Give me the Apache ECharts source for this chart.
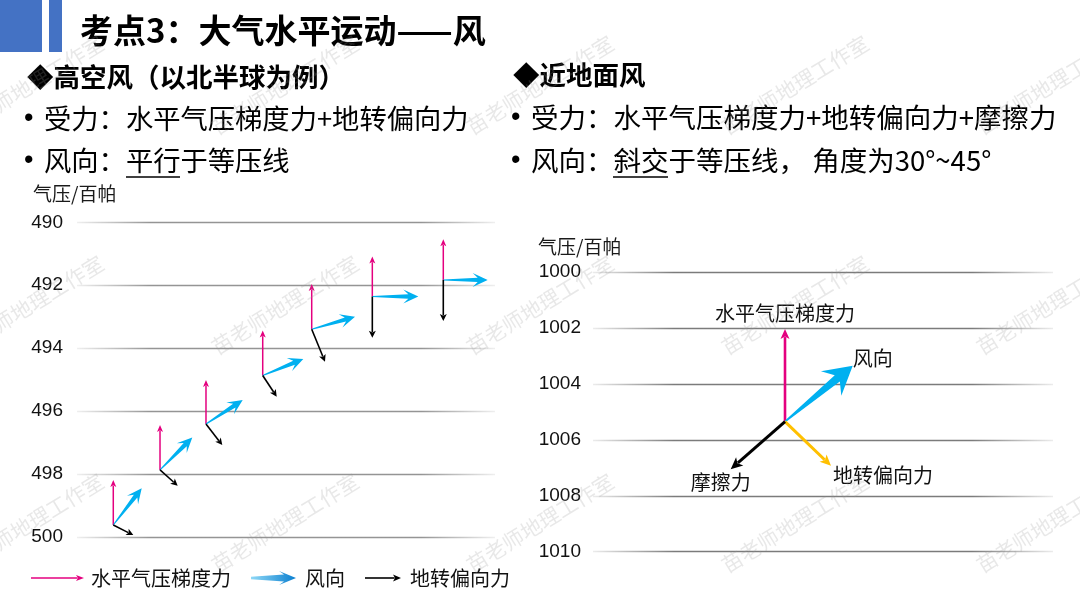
<!DOCTYPE html>
<html lang="zh">
<head>
    <meta charset="UTF-8">
    <title>考点3：大气水平运动——风</title>
    <style>
        html, body {
            margin: 0;
            padding: 0;
            background: #fff;
        }

        #main {
            width: 1080px;
            height: 608px;
        }
    </style>
    <script src="https://cdn.jsdelivr.net/npm/echarts@6/dist/echarts.min.js"></script>
</head>
<body>
<div id="main"></div>
<script>
    // 等压线（百帕）
    var upperIsobars = [490, 492, 494, 496, 498, 500];
    var surfaceIsobars = [1000, 1002, 1004, 1006, 1008, 1010];

    // 高空风：7个受力点，x为示意横坐标(0-100)，y为气压
    var upperOrigins = [[8.68, 499.62], [19.86, 497.87], [30.86, 496.41], [44.43, 494.87], [56.15, 493.40], [70.65, 492.36], [87.63, 491.83]];
    var upperPgfTips = [[8.68, 498.19], [19.86, 496.44], [30.86, 495.01], [44.43, 493.44], [56.15, 491.96], [70.65, 491.09], [87.63, 490.54]];
    var upperWindTips = [[15.48, 498.45], [27.58, 496.84], [39.64, 495.65], [54.14, 494.34], [66.51, 493.00], [81.65, 492.36], [98.25, 491.83]];
    var upperCoriolisTips = [[13.47, 499.94], [24.09, 498.37], [34.76, 497.08], [47.78, 495.54], [59.33, 494.43], [70.65, 493.67], [87.63, 493.14]];
    var upperNames = ['水平气压梯度力', '风向', '地转偏向力'];

    // 近地面风：一个受力点，四个矢量
    var surfaceOrigin = [41.74, 1005.35];
    var surfaceNames = ['水平气压梯度力', '风向', '地转偏向力', '摩擦力'];
    var surfaceTips = [[41.74, 1002.04], [56.46, 1003.35], [51.74, 1006.93], [29.93, 1007.05]];

    var CJK = '"Noto Sans CJK SC", "Noto Sans", sans-serif';
    var PINK = '#E4007F';
    var BLUE = '#00B0F0';
    var GOLD = '#FFC000';
    var BLACK = '#000000';

    // 箭头形状（像素坐标），s为样式
    function arrowParts(p0, p1, s) {
        var dx = p1[0] - p0[0], dy = p1[1] - p0[1];
        var len = Math.sqrt(dx * dx + dy * dy) || 1;
        var ux = dx / len, uy = dy / len;
        var nx = -uy, ny = ux;
        function at(a, b) {
            return [p1[0] - ux * a + nx * b, p1[1] - uy * a + ny * b];
        }
        if (s.taper) {
            return [{
                type: 'polygon',
                shape: {
                    points: [at(len, s.tail), at(s.notch, s.body), at(s.head, s.wing), p1,
                        at(s.head, -s.wing), at(s.notch, -s.body), at(len, -s.tail)]
                },
                style: {fill: s.color}
            }];
        }
        var b = at(s.head * 0.8, 0);
        return [
            {
                type: 'line',
                shape: {x1: p0[0], y1: p0[1], x2: b[0], y2: b[1]},
                style: {stroke: s.color, lineWidth: s.width}
            },
            {
                type: 'polygon',
                shape: {points: [p1, at(s.head, s.wing), at(s.head * 0.75, 0), at(s.head, -s.wing)]},
                style: {fill: s.color}
            }
        ];
    }

    var upperStyles = [
        {color: PINK, width: 1.5, head: 7, wing: 3},
        {color: BLUE, taper: true, head: 15, wing: 7, notch: 10, body: 2.2, tail: 0.5},
        {color: BLACK, width: 1.6, head: 7, wing: 3.5}
    ];
    var surfaceStyles = [
        {color: PINK, width: 2.6, head: 10, wing: 4.5},
        {color: BLUE, taper: true, head: 28, wing: 16, notch: 20, body: 4, tail: 0.8},
        {color: GOLD, width: 3, head: 11, wing: 5},
        {color: BLACK, width: 3, head: 12, wing: 5.5}
    ];
    var surfaceLabelPos = [
        {dx: 0, dy: -16, align: 'center'},
        {dx: 0, dy: -7, align: 'left'},
        {dx: 2, dy: 10, align: 'left'},
        {dx: -10, dy: 13, align: 'center'}
    ];

    function gridLineColor(c) {
        return new echarts.graphic.LinearGradient(0, 0, 1, 0, [
            {offset: 0, color: 'rgba(' + c + ',0.1)'},
            {offset: 0.18, color: 'rgba(' + c + ',0.85)'},
            {offset: 0.82, color: 'rgba(' + c + ',0.85)'},
            {offset: 1, color: 'rgba(' + c + ',0.1)'}
        ]);
    }

    function pressureAxis(gridIndex, ticks, margin, c) {
        return {
            gridIndex: gridIndex,
            type: 'value',
            inverse: true,
            min: ticks[0],
            max: ticks[ticks.length - 1],
            interval: ticks[1] - ticks[0],
            axisLine: {show: false},
            axisTick: {show: false},
            axisLabel: {
                margin: margin,
                color: '#111',
                fontSize: 19,
                fontFamily: '"Liberation Sans", Arial, sans-serif',
                formatter: function (v) {
                    return String(v);
                }
            },
            splitLine: {show: true, lineStyle: {color: gridLineColor(c), width: 1.3}}
        };
    }

    function arrowSeries(name, xi, yi, origins, tips, style, labelText, labelPos) {
        return {
            name: name,
            type: 'custom',
            xAxisIndex: xi,
            yAxisIndex: yi,
            data: origins.map(function (o, i) {
                return [o[0], o[1], tips[i][0], tips[i][1]];
            }),
            encode: {x: [0, 2], y: [1, 3]},
            renderItem: function (params, api) {
                var p0 = api.coord([api.value(0), api.value(1)]);
                var p1 = api.coord([api.value(2), api.value(3)]);
                var children = arrowParts(p0, p1, style);
                if (labelText) {
                    children.push({
                        type: 'text',
                        x: p1[0] + labelPos.dx,
                        y: p1[1] + labelPos.dy,
                        style: {
                            text: labelText,
                            font: '20px ' + CJK,
                            fill: '#111',
                            align: labelPos.align,
                            verticalAlign: 'middle'
                        }
                    });
                }
                return {type: 'group', children: children};
            }
        };
    }

    var series = [];
    var upperTips = [upperPgfTips, upperWindTips, upperCoriolisTips];
    upperNames.forEach(function (n, i) {
        series.push(arrowSeries('高空' + n, 0, 0, upperOrigins, upperTips[i], upperStyles[i]));
    });
    surfaceNames.forEach(function (n, i) {
        series.push(arrowSeries('近地面' + n, 1, 1, [surfaceOrigin], [surfaceTips[i]], surfaceStyles[i], n, surfaceLabelPos[i]));
    });

    // 页面文字
    function txt(x, y, text, font, fill) {
        return {
            type: 'text',
            x: x,
            y: y,
            z: 10,
            style: {text: text, font: font, fill: fill || '#000', align: 'left', verticalAlign: 'middle'}
        };
    }

    function uline(x1, x2, y) {
        return {type: 'line', z: 10, shape: {x1: x1, y1: y, x2: x2, y2: y}, style: {stroke: '#000', lineWidth: 1.5}};
    }

    var graphic = [
        {type: 'rect', shape: {x: 0, y: 0, width: 42, height: 52}, style: {fill: '#4472C4'}},
        {type: 'rect', shape: {x: 49, y: 0, width: 13, height: 52}, style: {fill: '#4472C4'}},
        txt(80, 30, '考点3：大气水平运动——风', 'bold 33px ' + CJK),
        txt(27, 77, '◆高空风（以北半球为例）', 'bold 26.5px ' + CJK),
        txt(24, 119, '•', '27px "Liberation Sans", sans-serif'),
        txt(44, 119, '受力：水平气压梯度力+地转偏向力', '27.3px ' + CJK),
        txt(24, 161, '•', '27px "Liberation Sans", sans-serif'),
        txt(44, 161, '风向：平行于等压线', '27.3px ' + CJK),
        uline(126, 180, 177),
        txt(513, 75, '◆近地面风', 'bold 26.5px ' + CJK),
        txt(511, 118, '•', '27px "Liberation Sans", sans-serif'),
        txt(531, 118, '受力：水平气压梯度力+地转偏向力+摩擦力', '27.5px ' + CJK),
        txt(511, 161, '•', '27px "Liberation Sans", sans-serif'),
        txt(531, 161, '风向：斜交于等压线， 角度为30°~45°', '27.5px ' + CJK),
        uline(613, 668, 177),
        txt(33, 194, '气压/百帕', '19px ' + CJK, '#1a1a1a'),
        txt(538, 247, '气压/百帕', '19px ' + CJK, '#1a1a1a')
    ];

    // 图例（高空风）
    var legendStyles = [
        {color: PINK, width: 1.5, head: 8, wing: 3},
        {
            color: new echarts.graphic.LinearGradient(0, 0, 1, 0, [
                {offset: 0, color: '#8fd8f6'}, {offset: 1, color: '#0a7fd0'}
            ]),
            taper: true, head: 17, wing: 7, notch: 12, body: 3.5, tail: 1.2
        },
        {color: BLACK, width: 1.6, head: 8, wing: 3.5}
    ];
    var legendIcons = [[31, 84], [251, 296], [365, 401]];
    var legendTextX = [91, 305, 410];
    upperNames.forEach(function (n, i) {
        graphic.push({
            type: 'group',
            children: arrowParts([legendIcons[i][0], 578], [legendIcons[i][1], 578], legendStyles[i])
        });
        graphic.push(txt(legendTextX[i], 578, n, '20px ' + CJK, '#111'));
    });

    // 水印
    [85, 305, 523].forEach(function (y) {
        [30, 285, 540, 795, 1050].forEach(function (x) {
            graphic.push({
                type: 'text',
                x: x,
                y: y,
                rotation: 0.55,
                z: 20,
                silent: true,
                style: {
                    text: '苗老师地理工作室',
                    font: '21px ' + CJK,
                    fill: 'rgba(150,150,150,0.22)',
                    align: 'center',
                    verticalAlign: 'middle'
                }
            });
        });
    });

    var myChart = echarts.init(document.getElementById('main'));
    myChart.setOption({
        animation: false,
        backgroundColor: '#fff',
        grid: [
            {left: 77, top: 222.3, width: 418, height: 314.7},
            {left: 593, top: 272, width: 460, height: 279.7}
        ],
        xAxis: [
            {gridIndex: 0, type: 'value', min: 0, max: 100, show: false},
            {gridIndex: 1, type: 'value', min: 0, max: 100, show: false}
        ],
        yAxis: [
            pressureAxis(0, upperIsobars, 14, '130,130,130'),
            pressureAxis(1, surfaceIsobars, 12, '100,100,100')
        ],
        series: series,
        graphic: graphic
    });
</script>
</body>
</html>
